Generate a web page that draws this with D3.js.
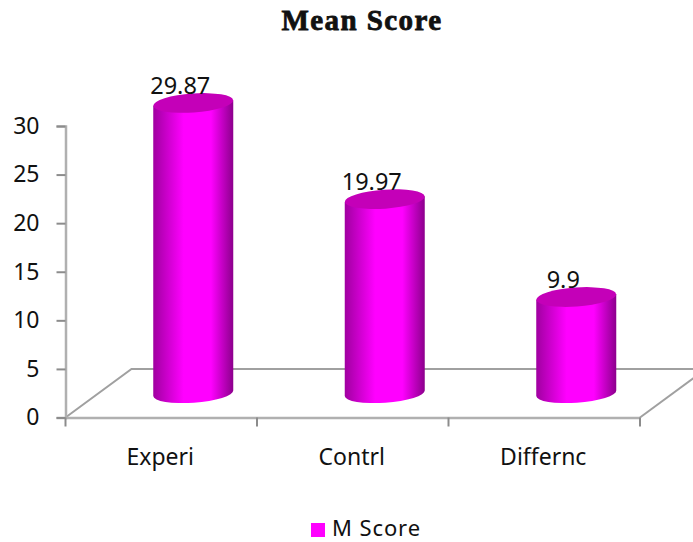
<!DOCTYPE html>
<html>
<head>
<meta charset="utf-8">
<script src="https://cdn.jsdelivr.net/npm/d3@7"></script>
<style>
	html, body { margin: 0; padding: 0; background: #fff; }
	svg { display: block; }
	text { font-family: "Noto Sans", sans-serif; fill: #111; }
</style>
</head>
<body>
<div id="chart"></div>
<script>
const categories = ["Experi", "Contrl", "Differnc"];
const meanScores = [29.87, 19.97, 9.9];
const valueLabels = ["29.87", "19.97", "9.9"];
const yTicks = [0, 5, 10, 15, 20, 25, 30];
const seriesName = "M Score";
const chartTitle = "Mean Score";

const width = 693, height = 542;
const margin = { top: 126, right: 53, bottom: 124.5, left: 65.5 };

// 3D look: the bars stand in the middle of a floor pushed back by this much
const depth = { x: 66, y: 48.6 };
const barRx = 40, barRy = 9.5, tilt = -4;

const svg = d3.select("#chart").append("svg")
	.attr("width", width)
	.attr("height", height);

const xScale = d3.scaleBand()
	.domain(categories)
	.range([margin.left, width - margin.right]);

const yScale = d3.scaleLinear()
	.domain([0, 30])
	.range([height - margin.bottom, margin.top]);

// Cylinder shading, dark at both edges
const grad = svg.append("defs").append("linearGradient")
	.attr("id", "barGrad")
	.attr("x1", "0%").attr("x2", "100%")
	.attr("y1", "0%").attr("y2", "0%");
[["0%", "#a000a0"], ["38%", "#ff00ff"], ["72%", "#ff00ff"], ["100%", "#8c008c"]]
	.forEach(s => grad.append("stop").attr("offset", s[0]).attr("stop-color", s[1]));

// Floor
const y0 = yScale(0), yBack = yScale(0) - depth.y;
const x0 = xScale.range()[0], x1 = xScale.range()[1];
const floor = svg.append("g")
	.attr("fill", "none")
	.attr("stroke", "#a0a0a0")
	.attr("stroke-width", 2);
floor.append("path").attr("d", d3.line()([[x0, y0], [x0 + depth.x, yBack], [width, yBack]]));
floor.append("path").attr("d", d3.line()([[x1, y0], [x1 + depth.x, yBack]]));

// Axes
const yAxis = d3.axisLeft(yScale).tickValues(yTicks).tickSize(9).tickPadding(17);
const gy = svg.append("g")
	.attr("transform", "translate(" + margin.left + ",0)")
	.call(yAxis);

const xAxis = d3.axisBottom(xScale).tickSize(0).tickPadding(31);
const gx = svg.append("g")
	.attr("transform", "translate(0," + y0 + ")")
	.call(xAxis);

// Category boundaries get the tick marks, not the band centres
gx.selectAll(".boundary")
	.data([0, 1, 2, 3])
	.enter()
	.append("line")
	.attr("class", "boundary")
	.attr("x1", d => x0 + d * xScale.bandwidth())
	.attr("x2", d => x0 + d * xScale.bandwidth())
	.attr("y1", 0)
	.attr("y2", 9)
	.attr("stroke", "#8c8c8c")
	.attr("stroke-width", 2);

svg.selectAll(".domain").attr("stroke", "#b0b0b0").attr("stroke-width", 2.5);
gy.selectAll(".tick line").attr("stroke", "#8c8c8c").attr("stroke-width", 2);
svg.selectAll(".tick text").style("font-size", "23px").style("font-family", "Noto Sans").attr("fill", "#111");
gx.selectAll(".tick").attr("transform", d => "translate(" + (xScale(d) + xScale.bandwidth() / 2 - 1) + ",0)");

// Cylinders
const barCx = d => xScale(d) + xScale.bandwidth() / 2 + depth.x / 2 - 1;
const barBase = y0 - depth.y / 2;
const rise = barRx * Math.sin(-tilt * Math.PI / 180);

const bars = svg.selectAll(".bar")
	.data(categories)
	.enter()
	.append("g")
	.attr("class", "bar");

bars.append("path")
	.attr("fill", "url(#barGrad)")
	.attr("d", (d, i) => {
		const cx = barCx(d);
		const top = barBase - (y0 - yScale(meanScores[i]));
		return "M" + (cx - barRx) + "," + (top + rise)
			+ "L" + (cx + barRx) + "," + (top - rise)
			+ "L" + (cx + barRx) + "," + (barBase - rise)
			+ "A" + barRx + "," + barRy + " " + tilt + " 0 1 " + (cx - barRx) + "," + (barBase + rise)
			+ "Z";
	});

bars.append("ellipse")
	.attr("fill", "#c400b8")
	.attr("rx", barRx)
	.attr("ry", barRy)
	.attr("transform", (d, i) => "translate(" + barCx(d) + "," + (barBase - (y0 - yScale(meanScores[i]))) + ") rotate(" + tilt + ")");

// Value labels
svg.selectAll(".value")
	.data(categories)
	.enter()
	.append("text")
	.attr("class", "value")
	.attr("x", d => barCx(d) - 13)
	.attr("y", (d, i) => barBase - (y0 - yScale(meanScores[i])) - 9)
	.attr("text-anchor", "middle")
	.style("font-size", "23.5px")
	.text((d, i) => valueLabels[i]);

// Title
svg.append("text")
	.attr("x", 362)
	.attr("y", 29.5)
	.attr("text-anchor", "middle")
	.style("font-family", "Liberation Serif")
	.style("font-weight", "bold")
	.style("font-size", "29px")
	.style("letter-spacing", "1.4px")
	.style("stroke", "#111")
	.style("stroke-width", "0.8px")
	.text(chartTitle);

// Legend
svg.append("rect")
	.attr("x", 311).attr("y", 523)
	.attr("width", 14).attr("height", 14)
	.attr("fill", "#ff00ff");
svg.append("text")
	.attr("x", 332)
	.attr("y", 535.5)
	.style("font-size", "22px")
	.style("letter-spacing", "0.9px")
	.text(seriesName);
</script>
</body>
</html>
